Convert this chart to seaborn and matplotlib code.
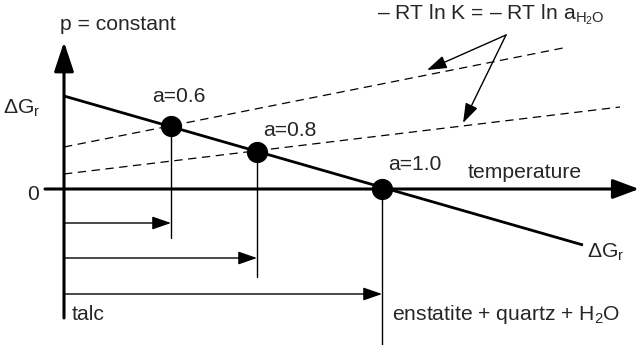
import matplotlib
matplotlib.use("Agg")
import matplotlib.pyplot as plt
import seaborn as sns
import pandas as pd

# ---- data (schematic units: temperature to the right, ΔG upward, origin at axes crossing)
dG_T = [0, 519]                 # ΔG_r line, temperature ends
dG_val = [93, -56]              # ΔG_r values at those ends
rt1_T = [0, 504]                # -RT ln a (a=0.6) line
rt1_val = [42, 142]
rt2_T = [0, 556]                # -RT ln a (a=0.8) line
rt2_val = [15, 82]
pt_T = [107, 193, 318]          # intersection temperatures
pt_G = [63, 37, 0]
pt_labels = ["a=0.6", "a=0.8", "a=1.0"]
drop_bottom = [-49, -88, -156]  # bottom of the vertical drop lines
bar_G = [-34, -69, -105]        # level of horizontal arrows

plt.rcParams["lines.scale_dashes"] = False
sns.set_theme(style="white")
plt.rcParams["font.family"] = ["Liberation Sans", "DejaVu Sans"]
plt.rcParams["mathtext.fontset"] = "custom"
plt.rcParams["mathtext.rm"] = "Liberation Sans"
plt.rcParams["mathtext.it"] = "Liberation Sans:italic"

fig = plt.figure(figsize=(6.41, 3.45), dpi=100)
ax = fig.add_axes([0, 0, 1, 1])
ax.set_xlim(-64, 577)
ax.set_ylim(-156, 189)
ax.axis("off")

# lines via seaborn
sns.lineplot(data=pd.DataFrame({"T": dG_T, "G": dG_val}), x="T", y="G", ax=ax,
             color="black", lw=2.0, solid_capstyle="butt")
for T, V in [(rt1_T, rt1_val), (rt2_T, rt2_val)]:
    sns.lineplot(data=pd.DataFrame({"T": T, "G": V}), x="T", y="G", ax=ax,
                 color="black", lw=0.9, dashes=False, linestyle=(0, (6, 4)))

# vertical drop lines
for T, G, b in zip(pt_T, pt_G, drop_bottom):
    ax.plot([T, T], [G, b], color="black", lw=1.0)

# horizontal arrows
for T, y in zip(pt_T, bar_G):
    ax.annotate("", xy=(T, y), xytext=(0, y),
                arrowprops=dict(arrowstyle="-|>,head_length=1.15,head_width=0.4",
                                lw=1.0, color="black", shrinkA=0, shrinkB=0,
                                mutation_scale=10))

# main axes with arrows
ax.annotate("", xy=(0, 147), xytext=(0, -129),
            arrowprops=dict(arrowstyle="-|>,head_length=1.8,head_width=0.6",
                            lw=2.2, color="black", shrinkA=0, shrinkB=0, mutation_scale=10))
ax.annotate("", xy=(575, 0), xytext=(-19, 0),
            arrowprops=dict(arrowstyle="-|>,head_length=1.6,head_width=0.6",
                            lw=2.2, color="black", shrinkA=0, shrinkB=0, mutation_scale=10))

# points
sns.scatterplot(data=pd.DataFrame({"T": pt_T, "G": pt_G}), x="T", y="G", ax=ax,
                s=200, color="black", edgecolor="black", zorder=5)

fs = 15.2
lab_pos = [(115, 92), (226, 58), (351, 24)]
for (x, y), lab in zip(lab_pos, pt_labels):
    ax.text(x, y, lab, ha="center", va="center", fontsize=fs)

ax.text(-4, 164, "p = constant", ha="left", va="center", fontsize=fs)
ax.text(-24, 81, r"$\Delta$G$_\mathrm{r}$", ha="right", va="center", fontsize=fs)
ax.text(-31, -5, "0", ha="center", va="center", fontsize=fs)
ax.text(461, 17, "temperature", ha="center", va="center", fontsize=fs)
ax.text(523, -63, r"$\Delta$G$_\mathrm{r}$", ha="left", va="center", fontsize=fs)
ax.text(8, -126, "talc", ha="left", va="center", fontsize=fs)
ax.text(328, -126, r"enstatite + quartz + H$_\mathrm{2}$O", ha="left", va="center", fontsize=fs)
ax.text(313, 174, r"– RT ln K = – RT ln a$_\mathrm{H_2O}$", ha="left", va="center", fontsize=fs)

# arrows from formula to dashed lines
for tip in [(363, 119), (399, 66)]:
    ax.annotate("", xy=tip, xytext=(442, 154),
                arrowprops=dict(arrowstyle="-|>,head_length=1.2,head_width=0.4",
                                lw=1.0, color="black", shrinkA=0, shrinkB=0, mutation_scale=10))

fig.savefig("out.png", dpi=100)
